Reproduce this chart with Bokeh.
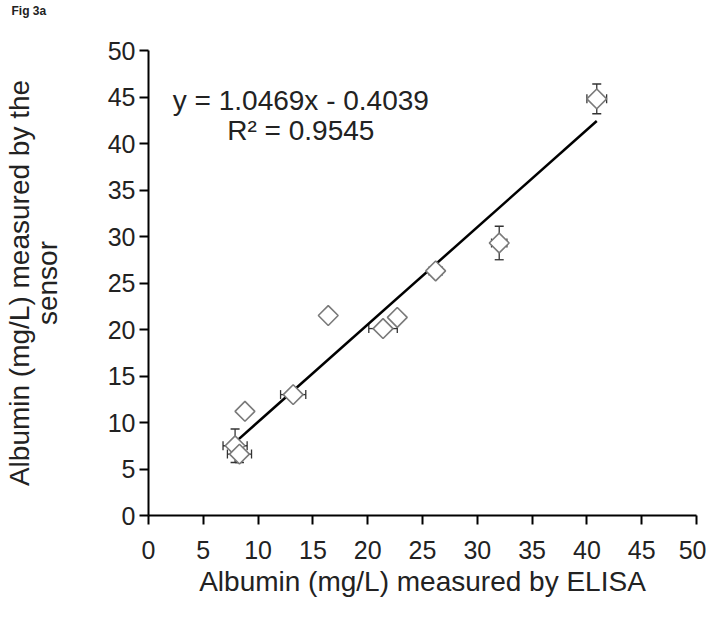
import numpy as np
from bokeh.plotting import figure
from bokeh.models import ColumnDataSource, Whisker, TeeHead, Label, FixedTicker, Range1d
from bokeh.embed import file_html
from bokeh.resources import INLINE

# Data
elisa_x = [7.9, 8.3, 8.8, 13.2, 16.4, 21.4, 22.7, 26.2, 32.0, 40.9]
sensor_y = [7.5, 6.6, 11.2, 13.0, 21.5, 20.1, 21.3, 26.3, 29.3, 44.8]
x_err = [1.1, 1.1, 0.2, 1.15, 0.2, 1.3, 0.4, 0.6, 0.7, 0.9]
y_err = [1.8, 0.9, 0.2, 0.4, 0.2, 0.3, 0.5, 0.4, 1.8, 1.6]
slope = 1.0469
intercept = -0.4039
r_squared = 0.9545
ticks = [0, 5, 10, 15, 20, 25, 30, 35, 40, 45, 50]

FONT = "Liberation Sans"
TXT = "#222222"

p = figure(frame_width=548, frame_height=465, output_backend="svg", toolbar_location=None,
           x_range=Range1d(0, 50), y_range=Range1d(0, 50),
           min_border_left=140, min_border_right=10, min_border_top=50, min_border_bottom=97)
p.outline_line_color = None
p.xgrid.visible = False
p.ygrid.visible = False
p.background_fill_color = "white"
p.border_fill_color = "white"

p.title.text = "Fig 3a\n \n "
p.title.text_font = FONT
p.title.text_font_size = "12px"
p.title.text_font_style = "bold"
p.title.text_color = TXT
p.title.text_line_height = 1.1
p.title.align = "left"
p.title.offset = -137
p.title.standoff = 0
p.title.vertical_align = "top"

for ax in (p.xaxis[0], p.yaxis[0]):
    ax.ticker = FixedTicker(ticks=ticks)
    ax.minor_tick_line_color = None
    ax.major_tick_in = 0
    ax.major_tick_out = 9
    ax.axis_line_width = 2
    ax.major_tick_line_width = 2
    ax.axis_line_color = "black"
    ax.major_tick_line_color = "black"
    ax.major_label_text_font = FONT
    ax.major_label_text_font_size = "25px"
    ax.major_label_text_color = TXT
    ax.axis_label_text_font = FONT
    ax.axis_label_text_font_size = "28px"
    ax.axis_label_text_font_style = "normal"
    ax.axis_label_text_color = TXT

p.xaxis.axis_label = "Albumin (mg/L) measured by ELISA"
p.xaxis.major_label_standoff = 16
p.xaxis.axis_label_standoff = 4
p.yaxis.axis_label = "Albumin (mg/L) measured by the\nsensor"
p.yaxis.axis_label_text_line_height = 0.9
p.yaxis.major_label_standoff = 4
p.yaxis.axis_label_standoff = 42

src = ColumnDataSource(dict(
    x=elisa_x, y=sensor_y,
    xl=[a - b for a, b in zip(elisa_x, x_err)], xu=[a + b for a, b in zip(elisa_x, x_err)],
    yl=[a - b for a, b in zip(sensor_y, y_err)], yu=[a + b for a, b in zip(sensor_y, y_err)],
))

# regression line
xs = np.array([min(elisa_x), max(elisa_x)])
p.line(xs, slope * xs + intercept, line_color="black", line_width=2.5)

p.scatter("x", "y", source=src, marker="square", angle=np.pi / 4, size=14,
          fill_color="white", line_color="#7a7a7a", line_width=1.6)

wy = Whisker(source=src, base="x", lower="yl", upper="yu", dimension="height",
             line_color="#333333", line_width=1.3,
             upper_head=TeeHead(size=9, line_color="#333333", line_width=1.3),
             lower_head=TeeHead(size=9, line_color="#333333", line_width=1.3))
wx = Whisker(source=src, base="y", lower="xl", upper="xu", dimension="width",
             line_color="#333333", line_width=1.3,
             upper_head=TeeHead(size=9, line_color="#333333", line_width=1.3),
             lower_head=TeeHead(size=9, line_color="#333333", line_width=1.3))
p.add_layout(wy)
p.add_layout(wx)

eq1 = Label(x=13.9, y=44.6, text="y = %.4fx - %.4f" % (slope, abs(intercept)),
            text_font=FONT, text_font_size="28px", text_color=TXT,
            text_align="center", text_baseline="middle")
eq2 = Label(x=13.9, y=41.4, text="R² = %.4f" % r_squared,
            text_font=FONT, text_font_size="28px", text_color=TXT,
            text_align="center", text_baseline="middle")
p.add_layout(eq1)
p.add_layout(eq2)

open("out.html", "w").write(file_html(p, INLINE))
